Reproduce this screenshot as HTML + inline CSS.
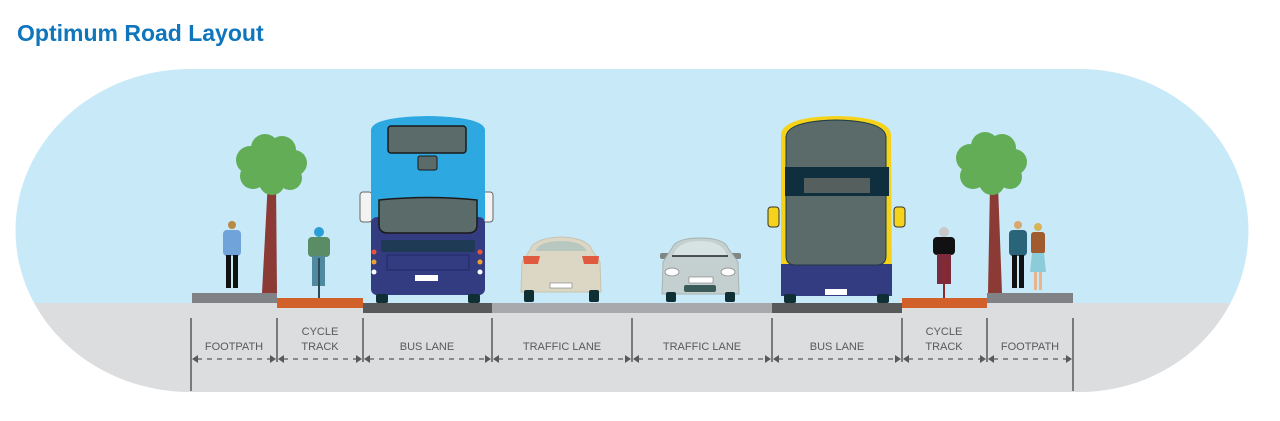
<!DOCTYPE html>
<html><head><meta charset="utf-8"><style>
html,body{margin:0;padding:0;background:#fff;width:1280px;height:421px;overflow:hidden}
svg{display:block}
text{font-family:"Liberation Sans Narrow","Liberation Sans",sans-serif}
</style></head><body>
<svg width="1280" height="421" viewBox="0 0 1280 421" xmlns="http://www.w3.org/2000/svg">
<defs>
<clipPath id="stad"><path d="M190,69 H1080 A168,161 0 0 1 1080,392 H190 A174,161 0 0 1 190,69 Z"/></clipPath>
</defs>
<text x="17" y="41" font-weight="bold" font-size="23" fill="#0f75bc" style="font-family:'Liberation Sans',sans-serif">Optimum Road Layout</text>
<g clip-path="url(#stad)">
<rect x="0" y="60" width="1280" height="243" fill="#c8e9f8"/>
<rect x="0" y="303" width="1280" height="100" fill="#dcdddf"/>
</g>
<rect x="192" y="293" width="85" height="10" fill="#808285"/>
<rect x="277" y="298" width="86" height="10" fill="#d2602b"/>
<rect x="363" y="303" width="129" height="10" fill="#58595b"/>
<rect x="492" y="303" width="280" height="10" fill="#a7a9ac"/>
<rect x="772" y="303" width="130" height="10" fill="#58595b"/>
<rect x="902" y="298" width="85" height="10" fill="#d2602b"/>
<rect x="987" y="293" width="86" height="10" fill="#808285"/>
<g>
<path d="M262,293 L268,180 L276,180 L277,293 Z" fill="#8b3a36"/>
<g fill="#63ad57"><circle cx="250" cy="160" r="14"/><circle cx="265" cy="148" r="14"/><circle cx="282" cy="150" r="14"/><circle cx="294" cy="163" r="13"/><circle cx="290" cy="178" r="12"/><circle cx="272" cy="182" r="13"/><circle cx="253" cy="176" r="13"/><circle cx="270" cy="165" r="16"/></g>
</g>
<g>
<path d="M988,293 L990,185 L998,185 L1002,293 Z" fill="#8b3a36"/>
<g fill="#63ad57"><circle cx="970" cy="158" r="14"/><circle cx="985" cy="146" r="14"/><circle cx="1002" cy="148" r="14"/><circle cx="1014" cy="162" r="13"/><circle cx="1010" cy="177" r="12"/><circle cx="992" cy="182" r="13"/><circle cx="973" cy="176" r="13"/><circle cx="990" cy="164" r="16"/></g>
</g>
<g>
<circle cx="232" cy="225" r="4" fill="#b88a44"/>
<rect x="223" y="230" width="18" height="26" rx="4" fill="#6fa3da"/>
<rect x="226" y="255" width="5" height="33" fill="#111"/><rect x="233" y="255" width="5" height="33" fill="#111"/>
</g>
<g>
<circle cx="319" cy="232" r="5" fill="#2a9fd6"/>
<rect x="308" y="237" width="22" height="20" rx="4" fill="#5a8c66"/>
<rect x="312" y="256" width="13" height="30" fill="#4f8a9e"/>
<line x1="319" y1="258" x2="319" y2="298" stroke="#2d4a5a" stroke-width="2"/>
</g>
<g>
<circle cx="944" cy="232" r="5" fill="#c9c9c9"/>
<rect x="933" y="237" width="22" height="18" rx="4" fill="#111"/>
<rect x="937" y="254" width="14" height="30" fill="#7d2a3b"/>
<line x1="944" y1="260" x2="944" y2="298" stroke="#8b2a2a" stroke-width="2"/>
</g>
<g>
<circle cx="1018" cy="225" r="4" fill="#d8a86c"/>
<rect x="1009" y="230" width="18" height="26" rx="4" fill="#2a6478"/>
<rect x="1012" y="255" width="5" height="33" fill="#111"/><rect x="1019" y="255" width="5" height="33" fill="#111"/>
<circle cx="1038" cy="227" r="4" fill="#d8b35a"/>
<rect x="1031" y="232" width="14" height="22" rx="3" fill="#a05b2e"/>
<path d="M1032,253 L1044,253 L1046,272 L1030,272 Z" fill="#8ccbd8"/>
<rect x="1034" y="272" width="3" height="18" fill="#e8b48a"/><rect x="1039" y="272" width="3" height="18" fill="#e8b48a"/>
</g>
<g>
<rect x="360" y="192" width="12" height="30" rx="3" fill="#f3f3f3" stroke="#666" stroke-width="1"/>
<rect x="481" y="192" width="12" height="30" rx="3" fill="#f3f3f3" stroke="#666" stroke-width="1"/>
<path d="M371,130 Q372,117 428,116 Q484,117 485,130 L485,220 L371,220 Z" fill="#2ea8e0"/>
<rect x="371" y="217" width="114" height="78" rx="6" fill="#333c80"/>
<rect x="388" y="126" width="78" height="27" rx="3" fill="#5b6b6a" stroke="#1a1a1a" stroke-width="1.5"/>
<rect x="418" y="156" width="19" height="14" rx="2" fill="#5b6b6a" stroke="#1a1a1a" stroke-width="1"/>
<path d="M379,200 Q428,195 477,200 L477,225 Q477,233 468,233 L388,233 Q379,233 379,225 Z" fill="#5b6b6a" stroke="#1a1a1a" stroke-width="1.5"/>
<rect x="381" y="240" width="94" height="12" rx="2" fill="#1f3a55"/>
<rect x="387" y="255" width="82" height="15" fill="none" stroke="#263070" stroke-width="1.5"/>
<rect x="415" y="275" width="23" height="6" fill="#fff"/>
<g fill="#e8543e"><circle cx="374" cy="252" r="2.5"/><circle cx="480" cy="252" r="2.5"/></g>
<g fill="#f0a030"><circle cx="374" cy="262" r="2.5"/><circle cx="480" cy="262" r="2.5"/></g>
<g fill="#fff"><circle cx="374" cy="272" r="2.5"/><circle cx="480" cy="272" r="2.5"/></g>
<rect x="376" y="294" width="12" height="9" rx="2" fill="#0f2f35"/><rect x="468" y="294" width="12" height="9" rx="2" fill="#0f2f35"/>
</g>
<g>
<rect x="768" y="207" width="11" height="20" rx="3" fill="#f5d31a" stroke="#333" stroke-width="1"/>
<rect x="894" y="207" width="11" height="20" rx="3" fill="#f5d31a" stroke="#333" stroke-width="1"/>
<path d="M781,135 Q782,117 836,116 Q890,117 891,135 L892,292 L781,292 Z" fill="#f5d31a"/>
<path d="M781,264 L892,264 L892,296 L781,296 Z" fill="#333c80"/>
<path d="M786,137 Q787,121 836,120 Q885,121 886,137 L886,256 Q886,265 876,265 L796,265 Q786,265 786,256 Z" fill="#5b6b6a" stroke="#1f3a45" stroke-width="1"/>
<rect x="785" y="167" width="104" height="29" fill="#0f2f3f"/>
<rect x="804" y="178" width="66" height="15" fill="#55605e"/>
<rect x="825" y="289" width="22" height="6" fill="#fff"/>
<rect x="784" y="294" width="12" height="9" rx="2" fill="#0f2f35"/><rect x="877" y="294" width="12" height="9" rx="2" fill="#0f2f35"/>
</g>
<g>
<path d="M530,250 Q534,238 561,237 Q588,238 592,250 L600,262 L601,292 L521,292 L522,262 Z" fill="#dcd7c5" stroke="#c8c3b0" stroke-width="1"/>
<path d="M535,251 Q540,241 561,241 Q582,241 587,251 Z" fill="#b8c8c0"/>
<path d="M523,256 L540,256 L538,264 L524,264 Z" fill="#e05a40"/><path d="M582,256 L599,256 L598,264 L584,264 Z" fill="#e05a40"/>
<rect x="550" y="283" width="22" height="5" fill="#fff" stroke="#666" stroke-width=".5"/>
<rect x="524" y="290" width="10" height="12" rx="2" fill="#0f2f35"/><rect x="589" y="290" width="10" height="12" rx="2" fill="#0f2f35"/>
</g>
<g>
<rect x="660" y="253" width="10" height="6" rx="2" fill="#808585"/><rect x="731" y="253" width="10" height="6" rx="2" fill="#808585"/>
<path d="M672,248 Q676,238 700,238 Q724,238 728,248 L738,262 L739,294 L662,294 L663,262 Z" fill="#c4cfcf" stroke="#a8b4b4" stroke-width="1"/>
<path d="M673,256 Q677,241 700,241 Q723,241 727,256 Z" fill="#d7e2e2"/>
<path d="M672,256 L728,256" stroke="#222" stroke-width="1.5"/>
<ellipse cx="672" cy="272" rx="7" ry="4" fill="#fff" stroke="#999"/><ellipse cx="728" cy="272" rx="7" ry="4" fill="#fff" stroke="#999"/>
<rect x="689" y="277" width="24" height="6" fill="#fff" stroke="#666" stroke-width=".5"/>
<rect x="684" y="285" width="32" height="7" rx="2" fill="#3b5a5a"/>
<rect x="666" y="292" width="10" height="10" rx="2" fill="#0f2f35"/><rect x="725" y="292" width="10" height="10" rx="2" fill="#0f2f35"/>
</g>
<g stroke="#58595b" stroke-width="1.5">
<line x1="191" y1="318" x2="191" y2="391"/>
<line x1="1073" y1="318" x2="1073" y2="391"/>
<line x1="277" y1="318" x2="277" y2="362"/>
<line x1="363" y1="318" x2="363" y2="362"/>
<line x1="492" y1="318" x2="492" y2="362"/>
<line x1="632" y1="318" x2="632" y2="362"/>
<line x1="772" y1="318" x2="772" y2="362"/>
<line x1="902" y1="318" x2="902" y2="362"/>
<line x1="987" y1="318" x2="987" y2="362"/>
</g>
<g stroke="#58595b" stroke-width="1.3" stroke-dasharray="5,5" fill="none">
<line x1="197" y1="359" x2="271" y2="359"/><line x1="283" y1="359" x2="357" y2="359"/>
<line x1="369" y1="359" x2="486" y2="359"/><line x1="498" y1="359" x2="626" y2="359"/>
<line x1="638" y1="359" x2="766" y2="359"/><line x1="778" y1="359" x2="896" y2="359"/>
<line x1="908" y1="359" x2="981" y2="359"/><line x1="993" y1="359" x2="1067" y2="359"/>
</g>
<g fill="#58595b">
<path d="M192,359 l6,-4 v8z"/><path d="M276,359 l-6,-4 v8z"/><path d="M278,359 l6,-4 v8z"/><path d="M362,359 l-6,-4 v8z"/>
<path d="M364,359 l6,-4 v8z"/><path d="M491,359 l-6,-4 v8z"/><path d="M493,359 l6,-4 v8z"/><path d="M631,359 l-6,-4 v8z"/>
<path d="M633,359 l6,-4 v8z"/><path d="M771,359 l-6,-4 v8z"/><path d="M773,359 l6,-4 v8z"/><path d="M901,359 l-6,-4 v8z"/>
<path d="M903,359 l6,-4 v8z"/><path d="M986,359 l-6,-4 v8z"/><path d="M988,359 l6,-4 v8z"/><path d="M1072,359 l-6,-4 v8z"/>
</g>
<g fill="#58595b" font-size="11" text-anchor="middle">
<text x="234" y="350">FOOTPATH</text>
<text x="320" y="335">CYCLE</text><text x="320" y="350">TRACK</text>
<text x="427" y="350">BUS LANE</text>
<text x="562" y="350">TRAFFIC LANE</text>
<text x="702" y="350">TRAFFIC LANE</text>
<text x="837" y="350">BUS LANE</text>
<text x="944" y="335">CYCLE</text><text x="944" y="350">TRACK</text>
<text x="1030" y="350">FOOTPATH</text>
</g>
</svg>
</body></html>
